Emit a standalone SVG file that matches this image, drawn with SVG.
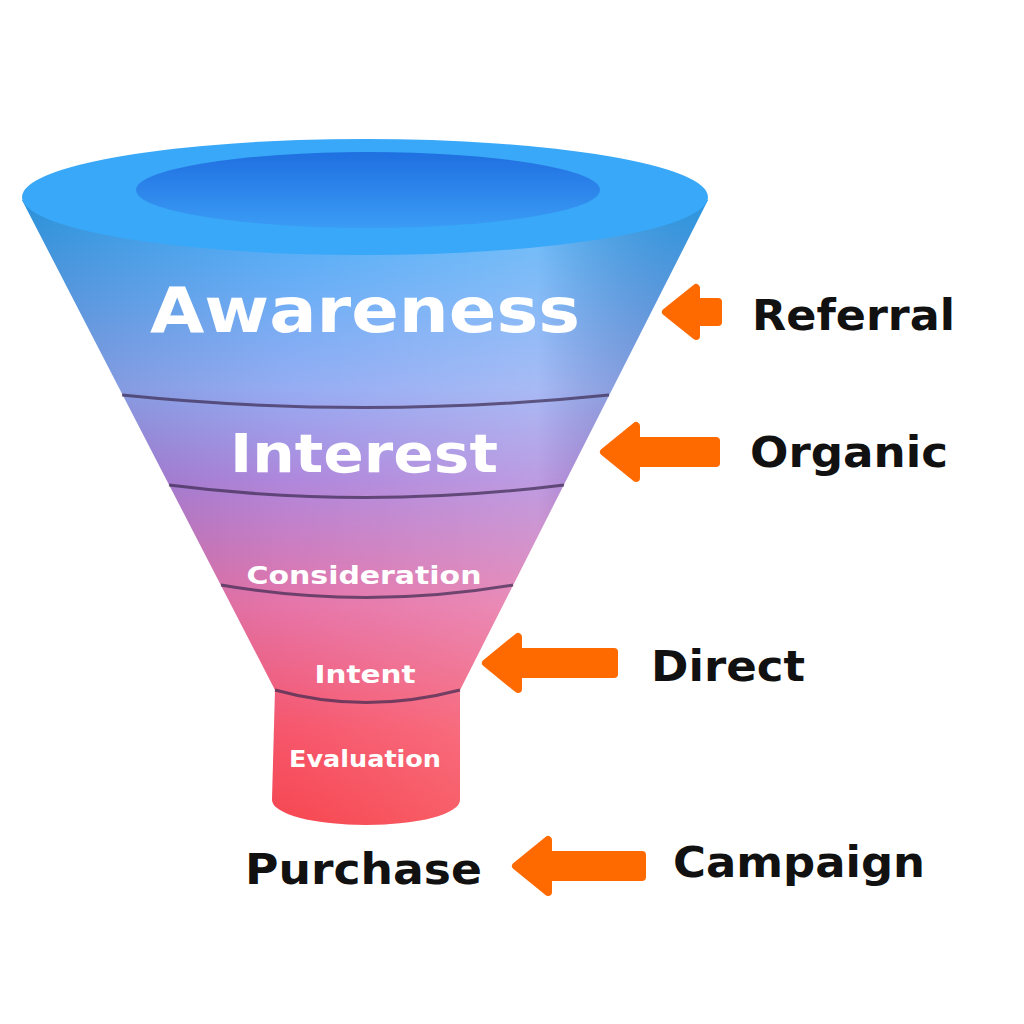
<svg xmlns="http://www.w3.org/2000/svg" width="1024" height="1024" viewBox="0 0 1024 1024">
<defs>
<linearGradient id="body" x1="0" y1="0" x2="0" y2="1" gradientUnits="objectBoundingBox">
<stop offset="0" stop-color="#2fa6f7"/>
<stop offset="0.3" stop-color="#8aa4f2"/>
<stop offset="0.45" stop-color="#a77ad8"/>
<stop offset="0.65" stop-color="#e4669f"/>
<stop offset="0.85" stop-color="#f6455c"/>
<stop offset="1" stop-color="#f6343f"/>
</linearGradient>
<linearGradient id="shade" x1="0" y1="0" x2="1" y2="0">
<stop offset="0" stop-color="#000" stop-opacity="0.12"/>
<stop offset="0.4" stop-color="#fff" stop-opacity="0.1"/>
<stop offset="0.75" stop-color="#fff" stop-opacity="0.25"/>
<stop offset="1" stop-color="#000" stop-opacity="0.1"/>
</linearGradient>
<linearGradient id="hole" x1="0" y1="0" x2="0" y2="1">
<stop offset="0" stop-color="#1f6fe0"/>
<stop offset="1" stop-color="#3b9cf5"/>
</linearGradient>
<style>
.lbl{font-family:"DejaVu Sans","Liberation Sans",sans-serif;font-weight:bold;fill:#111}
.st{font-family:"DejaVu Sans","Liberation Sans",sans-serif;font-weight:bold;fill:#fff;text-anchor:middle}
.band{fill:none;stroke:#3a2a50;stroke-width:3;stroke-opacity:0.7}
.arr{fill:#ff6a00;stroke:#ff6a00;stroke-width:8;stroke-linejoin:round}
</style>
</defs>
<g id="funnel">
<path d="M22,200 L275,690 L272,800 A94,25 0 0 0 460,800 L460,690 L708,200 Z" fill="url(#body)"/>
<path d="M22,200 L275,690 L272,800 A94,25 0 0 0 460,800 L460,690 L708,200 Z" fill="url(#shade)"/>
<ellipse cx="365" cy="197" rx="343" ry="58" fill="#39a8f8"/>
<ellipse cx="368" cy="190" rx="232" ry="38" fill="url(#hole)"/>
<path class="band" d="M122,395 Q365,420 609,395"/>
<path class="band" d="M169,485 Q365,510 564,485"/>
<path class="band" d="M221,585 Q365,610 513,585"/>
<path class="band" d="M275,690 Q365,715 460,690"/>
</g>
<g id="stages">
<text class="st" x="365" y="332" font-size="62" textLength="430" lengthAdjust="spacingAndGlyphs">Awareness</text>
<text class="st" x="364" y="472" font-size="54" textLength="268" lengthAdjust="spacingAndGlyphs">Interest</text>
<text class="st" x="364" y="584" font-size="25" textLength="235" lengthAdjust="spacingAndGlyphs">Consideration</text>
<text class="st" x="365" y="683" font-size="25" textLength="101" lengthAdjust="spacingAndGlyphs">Intent</text>
<text class="st" x="365" y="767" font-size="23" textLength="152" lengthAdjust="spacingAndGlyphs">Evaluation</text>
</g>
<g id="connectors">
<path class="arr" d="M666,312 L696,288 L696,302 L718,302 L718,322 L696,322 L696,336 Z"/>
<path class="arr" d="M604,452 L636,426 L636,441 L716,441 L716,463 L636,463 L636,478 Z"/>
<path class="arr" d="M486,663 L518,637 L518,652 L614,652 L614,674 L518,674 L518,689 Z"/>
<path class="arr" d="M516,866 L548,840 L548,855 L642,855 L642,877 L548,877 L548,892 Z"/>
</g>
<g id="labels">
<text class="lbl" x="752" y="330" font-size="42" textLength="203" lengthAdjust="spacingAndGlyphs">Referral</text>
<text class="lbl" x="750" y="467" font-size="42" textLength="198" lengthAdjust="spacingAndGlyphs">Organic</text>
<text class="lbl" x="651" y="681" font-size="42" textLength="154" lengthAdjust="spacingAndGlyphs">Direct</text>
<text class="lbl" x="673" y="877" font-size="42" textLength="252" lengthAdjust="spacingAndGlyphs">Campaign</text>
<text class="lbl" x="245" y="884" font-size="42" textLength="237" lengthAdjust="spacingAndGlyphs">Purchase</text>
</g>
</svg>
